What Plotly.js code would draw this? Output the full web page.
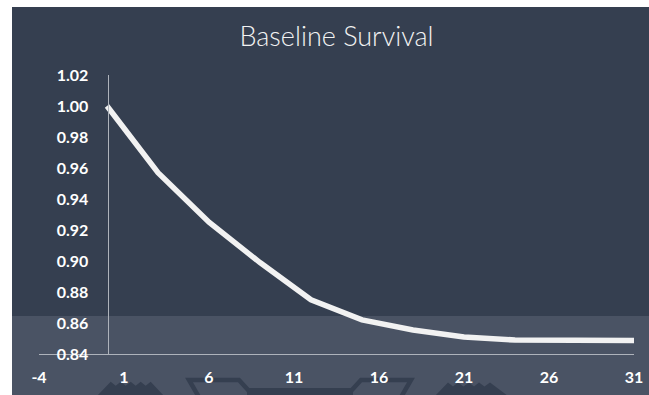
<!DOCTYPE html>
<html>
<head>
<meta charset="utf-8">
<script src="https://cdn.plot.ly/plotly-3.0.1.min.js"></script>
<style>
  html, body { margin: 0; padding: 0; background: #ffffff; }
  #chart { width: 649px; height: 395px; }
</style>
</head>
<body>
<div id="chart"></div>
<script>
// Baseline survival by month
const months   = [0, 3, 6, 9, 12, 15, 18, 21, 24, 27, 30, 31];
const survival = [1.000, 0.957, 0.925, 0.899, 0.875, 0.862, 0.8555, 0.851, 0.849, 0.8487, 0.8487, 0.8487];

// Axis ticks
const xTickValues = [-4, 1, 6, 11, 16, 21, 26, 31];
const xTickLabels = ['-4', '1', '6', '11', '16', '21', '26', '31'];
const yTickStep = 0.02;

// Plot-area geometry in pixels (used to place the decorative backdrop)
const W = 649, H = 395;
const M = { l: 39, r: 15, t: 75, b: 41 };
const plotW = W - M.l - M.r;
const plotH = H - M.t - M.b;
const fx = px => (px - M.l) / plotW;
const fy = py => (H - M.b - py) / plotH;
const pt = (x, y) => fx(x).toFixed(4) + ',' + fy(y).toFixed(4);
const poly = pts => 'M' + pts.map(p => pt(p[0], p[1])).join(' L') + ' Z';

const dark = '#353f50';
const band = '#4a5364';

const shapes = [
  // slate card
  { type: 'rect', xref: 'paper', yref: 'paper', layer: 'below',
    x0: fx(12), x1: fx(649), y0: fy(7), y1: fy(400),
    fillcolor: dark, line: { width: 0 } },
  // lighter lower band
  { type: 'rect', xref: 'paper', yref: 'paper', layer: 'below',
    x0: fx(12), x1: fx(649), y0: fy(316), y1: fy(400),
    fillcolor: band, line: { width: 0 } },
  // left zig-zag ridge
  { type: 'path', xref: 'paper', yref: 'paper', layer: 'below',
    path: poly([[97, 396], [110.7, 381.7], [115.7, 385.7], [120.7, 381.7], [125.7, 385.7],
                [130.7, 381.7], [135.7, 385.7], [140.7, 381.7], [145.7, 385.7],
                [150.7, 381.7], [164, 396]]),
    fillcolor: dark, line: { width: 0 } },
  // right zig-zag ridge
  { type: 'path', xref: 'paper', yref: 'paper', layer: 'below',
    path: poly([[435, 396], [448, 382.5], [453, 386.5], [458, 382.5], [463.5, 386.5],
                [469, 382.5], [474, 386.5], [479, 382.5], [484.5, 386.5],
                [490, 382.5], [508, 396]]),
    fillcolor: dark, line: { width: 0 } },
  // open trapezoid outline
  { type: 'path', xref: 'paper', yref: 'paper', layer: 'below',
    path: 'M' + [[200, 399], [189, 380], [239, 380], [249, 391], [351, 391],
                 [361, 380], [411, 380], [400, 399]].map(p => pt(p[0], p[1])).join(' L'),
    fillcolor: 'rgba(0,0,0,0)', line: { color: dark, width: 4.5 } },
  { type: 'rect', xref: 'paper', yref: 'paper', layer: 'below',
    x0: fx(247), x1: fx(353), y0: fy(388), y1: fy(400),
    fillcolor: dark, line: { width: 0 } }
];

const tickFont = { family: 'Lato, "Open Sans", sans-serif', size: 16, color: '#ffffff', weight: 'bold' };

const trace = {
  type: 'scatter',
  mode: 'lines',
  x: months,
  y: survival,
  line: { color: '#f2f2f2', width: 5.5 },
  hoverinfo: 'x+y'
};

const layout = {
  width: W,
  height: H,
  margin: { l: M.l, r: M.r, t: M.t, b: M.b, pad: 0 },
  paper_bgcolor: '#ffffff',
  plot_bgcolor: 'rgba(0,0,0,0)',
  showlegend: false,
  title: {
    text: 'Baseline Survival',
    font: { family: 'Lato, "Open Sans", sans-serif', size: 27, color: '#f2f2f2', weight: 300 },
    x: 336.5 / W, xanchor: 'center', xref: 'container',
    y: 1 - 37 / H, yanchor: 'middle', yref: 'container'
  },
  xaxis: {
    range: [-4, 31],
    tickmode: 'array', tickvals: xTickValues, ticktext: xTickLabels,
    showgrid: false, zeroline: false,
    showline: true, linecolor: '#aeb3bb', linewidth: 1,
    ticks: '', ticklabelstandoff: 9,
    tickfont: tickFont
  },
  yaxis: {
    range: [0.84, 1.02],
    tickmode: 'linear', tick0: 0.84, dtick: yTickStep,
    tickformat: '.2f',
    anchor: 'free', position: (107.5 - M.l) / plotW,
    showgrid: false, zeroline: false,
    showline: true, linecolor: '#aeb3bb', linewidth: 1,
    ticks: '', ticklabelstandoff: 16,
    tickfont: tickFont
  },
  shapes: shapes
};

Plotly.newPlot('chart', [trace], layout, { displayModeBar: false, staticPlot: true });
</script>
</body>
</html>
